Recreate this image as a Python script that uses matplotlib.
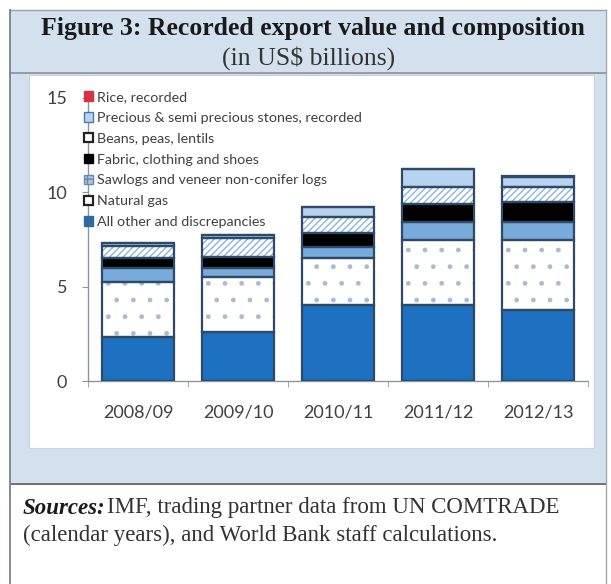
import numpy as np
import matplotlib
matplotlib.use('Agg')
import matplotlib.pyplot as plt
from matplotlib.patches import Rectangle, Patch
from matplotlib.lines import Line2D

# ==================== DATA ====================
years = ['2008/09', '2009/10', '2010/11', '2011/12', '2012/13']
all_other = [2.33, 2.58, 4.03, 4.03, 3.76]
natural_gas = [2.92, 2.95, 2.47, 3.44, 3.71]
sawlogs = [0.72, 0.44, 0.62, 0.94, 0.97]
fabric = [0.53, 0.62, 0.71, 0.98, 1.06]
beans = [0.65, 0.97, 0.88, 0.88, 0.80]
precious = [0.15, 0.18, 0.49, 0.97, 0.53]
rice = [0.02, 0.02, 0.02, 0.02, 0.02]
y_ticks = [0, 5, 10, 15]

labels = ['All other and discrepancies', 'Natural gas',
          'Sawlogs and veneer non-conifer logs', 'Fabric, clothing and shoes',
          'Beans, peas, lentils', 'Precious & semi precious stones, recorded',
          'Rice, recorded']
# ==============================================

W, H = 611, 584
fig = plt.figure(figsize=(W / 100, H / 100), dpi=100)
fig.patch.set_facecolor('white')


def px(x, y):
    return x / W, 1 - y / H


def frect(x0, y0, x1, y1, **kw):
    fig.add_artist(Rectangle(px(x0, y1), (x1 - x0) / W, (y1 - y0) / H,
                             transform=fig.transFigure, **kw))


def hline(y, x0, x1, **kw):
    fig.add_artist(Line2D([x0 / W, x1 / W], [1 - y / H] * 2,
                          transform=fig.transFigure, **kw))


light = '#d3e1ee'
# background boxes
frect(10, 10, 606, 484, facecolor=light, edgecolor='none', zorder=0)
frect(29, 75, 594, 448, facecolor='white', edgecolor='#c8d2dc', lw=0.8, zorder=0)
hline(73, 10, 606, color='#8a9098', lw=1.2)
hline(484, 10, 606, color='#6a7078', lw=1.4)
hline(10, 10, 606, color='#9aa0a8', lw=1.0)
fig.add_artist(Line2D([10 / W, 10 / W], [1 - 10 / H, 0], color='#808890', lw=1.4,
                      transform=fig.transFigure))
fig.add_artist(Line2D([606 / W, 606 / W], [1 - 10 / H, 0], color='#a0a8b0', lw=1.0,
                      transform=fig.transFigure))

# title
fig.text(*px(313, 29), 'Figure 3: Recorded export value and composition',
         ha='center', va='center', fontsize=18.5, fontweight='bold',
         family='Liberation Serif', color='#1a1a1a')
fig.text(*px(309, 58), '(in US$ billions)', ha='center', va='center',
         fontsize=18.5, family='Liberation Serif', color='#333333')

# sources
src_bold = fig.text(*px(23, 508), 'Sources:', ha='left', va='center', fontsize=16.5,
                    family='Liberation Serif', fontweight='bold', style='italic',
                    color='#1a1a1a')
fig.canvas.draw()
bb = src_bold.get_window_extent(fig.canvas.get_renderer())
fig.text(bb.x1 / W + 1 / W, 1 - 508 / H, 'IMF, trading partner data from UN COMTRADE',
         ha='left', va='center', fontsize=16.5, family='Liberation Serif',
         color='#333333')
fig.text(*px(23, 535), '(calendar years), and World Bank staff calculations.',
         ha='left', va='center', fontsize=16.5, family='Liberation Serif', color='#333333')

# axes
l, b = px(88, 381)
r, t = px(588, 98)
ax = fig.add_axes([l, b, r - l, t - b])
ax.set_facecolor('none')

x = np.arange(len(years))
width = 0.72
edge = '#2e4a66'

series = [
    (all_other, '#1d6fbf', None, None),
    (natural_gas, 'white', '.', '#a8bcd2'),
    (sawlogs, '#78aadb', None, None),
    (fabric, 'black', None, None),
    (beans, 'white', '/////', '#8ab4e0'),
    (precious, '#b7d3ef', None, None),
    (rice, '#d63340', None, None),
]

bottom = np.zeros(len(years))
for vals, fc, hatch, hc in series:
    vals = np.array(vals)
    if hatch:
        ax.bar(x, vals, width, bottom=bottom, color=fc, edgecolor=hc, hatch=hatch,
               linewidth=0, zorder=2)
    else:
        ax.bar(x, vals, width, bottom=bottom, color=fc, linewidth=0, zorder=2)
    ax.bar(x, vals, width, bottom=bottom, facecolor='none', edgecolor=edge,
           linewidth=1.6, zorder=3)
    bottom += vals

ax.set_xlim(-0.5, 4.5)
ax.set_ylim(0, 15)
ax.set_yticks(y_ticks)
ax.set_xticks(x)
ax.set_xticklabels(years)
ax.set_xticks(np.arange(-0.5, 5, 1), minor=True)
for s in ['top', 'right']:
    ax.spines[s].set_visible(False)
for s in ['left', 'bottom']:
    ax.spines[s].set_color('#8c96a0')
    ax.spines[s].set_linewidth(1.0)
ax.tick_params(axis='x', which='major', length=0, pad=17, labelsize=13,
               labelcolor='#404040')
ax.tick_params(axis='x', which='minor', length=4, color='#8c96a0')
ax.tick_params(axis='y', length=4, pad=11, labelsize=13, labelcolor='#404040',
               color='#8c96a0')
for lab in ax.get_xticklabels() + ax.get_yticklabels():
    lab.set_family('Lato')

# legend (top of stack first)
handles = [
    Patch(facecolor='#d63340', edgecolor='#d63340'),
    Patch(facecolor='#b7d3ef', edgecolor='#4a78a8'),
    Patch(facecolor='white', edgecolor='#222222', lw=1.6),
    Patch(facecolor='black', edgecolor='black'),
    Patch(facecolor='#b0c4dc', edgecolor='#6a88a8', hatch='++'),
    Patch(facecolor='white', edgecolor='#222222', lw=1.6),
    Patch(facecolor='#2e6c9e', edgecolor='#2e6c9e'),
]
leg = ax.legend(handles, labels[::-1], loc='upper left',
                bbox_to_anchor=px(84, 91), bbox_transform=fig.transFigure,
                frameon=False, fontsize=10.3, handlelength=0.65, handleheight=0.65,
                handletextpad=0.25, labelspacing=0.62, borderpad=0, borderaxespad=0)
for txt in leg.get_texts():
    txt.set_color('#404040')
    txt.set_family('Lato')

fig.savefig('out.png', dpi=100)
